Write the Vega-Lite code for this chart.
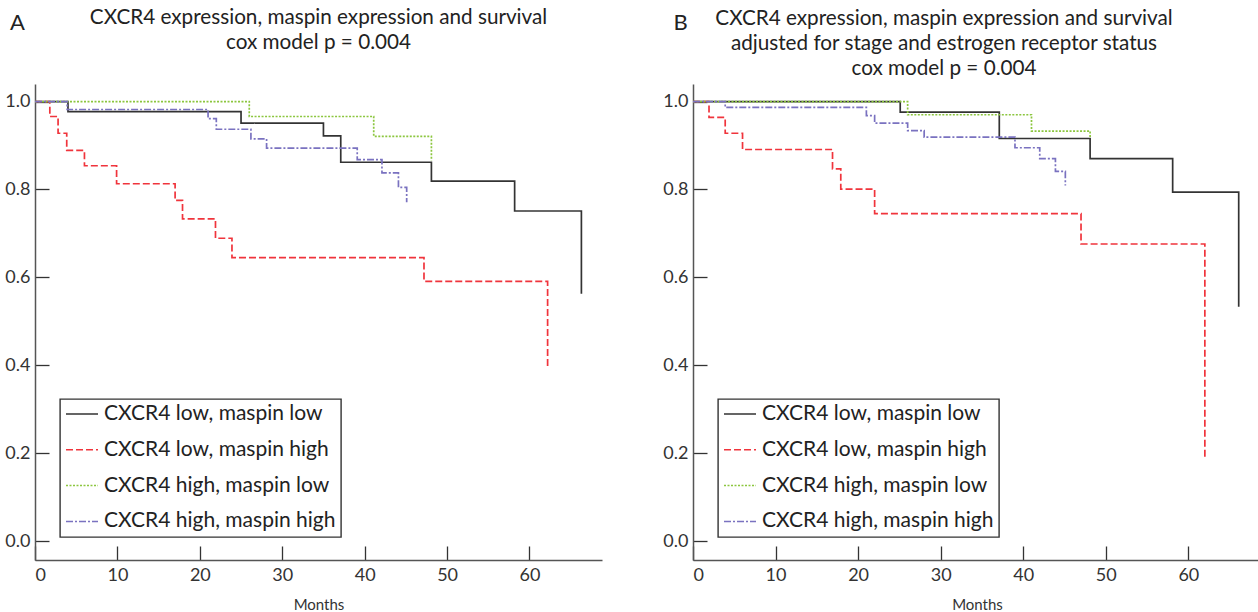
{
  "$schema": "https://vega.github.io/schema/vega-lite/v6.json",
  "padding": {"left": 4, "top": 7, "right": 0, "bottom": 0},
  "background": "white",
  "config": {
    "font": "Lato",
    "view": {"stroke": null},
    "concat": {"spacing": 60},
    "axis": {"grid": false, "domainColor": "#555", "domainWidth": 1.5, "tickColor": "#333", "tickWidth": 1.3, "tickSize": -14, "labelFont": "Lato", "labelFontSize": 18, "labelColor": "#333", "titleFont": "Lato", "titleFontWeight": "normal", "titleColor": "#333"},
    "legend": {"orient": "none", "legendX": 25, "legendY": 315, "strokeColor": "#333", "strokeWidth": 1.4, "padding": 5, "rowPadding": 14.8, "clipHeight": 20, "symbolType": "stroke", "symbolSize": 1024, "symbolStrokeWidth": 1.5, "labelFont": "Lato", "labelFontSize": 21, "labelColor": "#222", "labelOffset": 5, "labelLimit": 400, "title": null, "fillColor": "white"},
    "title": {"font": "Lato", "fontSize": 20.7, "fontWeight": "normal", "color": "#222", "anchor": "middle", "lineHeight": 25}
  },
  "datasets": {
    "a": [
      {"group": "CXCR4 low, maspin low", "month": 0, "surv": 1},
      {"group": "CXCR4 low, maspin low", "month": 4, "surv": 0.977},
      {"group": "CXCR4 low, maspin low", "month": 25, "surv": 0.951},
      {"group": "CXCR4 low, maspin low", "month": 35, "surv": 0.922},
      {"group": "CXCR4 low, maspin low", "month": 37.1, "surv": 0.862},
      {"group": "CXCR4 low, maspin low", "month": 48.1, "surv": 0.819},
      {"group": "CXCR4 low, maspin low", "month": 58.2, "surv": 0.751},
      {"group": "CXCR4 low, maspin low", "month": 66.3, "surv": 0.563},
      {"group": "CXCR4 low, maspin high", "month": 0, "surv": 1},
      {"group": "CXCR4 low, maspin high", "month": 1.8, "surv": 0.966},
      {"group": "CXCR4 low, maspin high", "month": 2.8, "surv": 0.928},
      {"group": "CXCR4 low, maspin high", "month": 3.85, "surv": 0.889},
      {"group": "CXCR4 low, maspin high", "month": 6, "surv": 0.854},
      {"group": "CXCR4 low, maspin high", "month": 9.9, "surv": 0.813},
      {"group": "CXCR4 low, maspin high", "month": 17, "surv": 0.775},
      {"group": "CXCR4 low, maspin high", "month": 17.9, "surv": 0.733},
      {"group": "CXCR4 low, maspin high", "month": 21.9, "surv": 0.689},
      {"group": "CXCR4 low, maspin high", "month": 23.9, "surv": 0.645},
      {"group": "CXCR4 low, maspin high", "month": 47.2, "surv": 0.591},
      {"group": "CXCR4 low, maspin high", "month": 62.2, "surv": 0.392},
      {"group": "CXCR4 high, maspin low", "month": 0, "surv": 1},
      {"group": "CXCR4 high, maspin low", "month": 26, "surv": 0.966},
      {"group": "CXCR4 high, maspin low", "month": 41.1, "surv": 0.921},
      {"group": "CXCR4 high, maspin low", "month": 48.1, "surv": 0.866},
      {"group": "CXCR4 high, maspin high", "month": 0, "surv": 1},
      {"group": "CXCR4 high, maspin high", "month": 3.9, "surv": 0.982},
      {"group": "CXCR4 high, maspin high", "month": 21, "surv": 0.961},
      {"group": "CXCR4 high, maspin high", "month": 22, "surv": 0.937},
      {"group": "CXCR4 high, maspin high", "month": 26.2, "surv": 0.915},
      {"group": "CXCR4 high, maspin high", "month": 28.1, "surv": 0.894},
      {"group": "CXCR4 high, maspin high", "month": 39.1, "surv": 0.868},
      {"group": "CXCR4 high, maspin high", "month": 42.1, "surv": 0.838},
      {"group": "CXCR4 high, maspin high", "month": 44.1, "surv": 0.805},
      {"group": "CXCR4 high, maspin high", "month": 45.1, "surv": 0.771}
    ],
    "b": [
      {"group": "CXCR4 low, maspin low", "month": 0, "surv": 1},
      {"group": "CXCR4 low, maspin low", "month": 25.1, "surv": 0.976},
      {"group": "CXCR4 low, maspin low", "month": 37.1, "surv": 0.916},
      {"group": "CXCR4 low, maspin low", "month": 48.1, "surv": 0.870},
      {"group": "CXCR4 low, maspin low", "month": 58.1, "surv": 0.794},
      {"group": "CXCR4 low, maspin low", "month": 66.1, "surv": 0.533},
      {"group": "CXCR4 low, maspin high", "month": 0, "surv": 1},
      {"group": "CXCR4 low, maspin high", "month": 1.94, "surv": 0.964},
      {"group": "CXCR4 low, maspin high", "month": 3.9, "surv": 0.928},
      {"group": "CXCR4 low, maspin high", "month": 6, "surv": 0.891},
      {"group": "CXCR4 low, maspin high", "month": 16.9, "surv": 0.847},
      {"group": "CXCR4 low, maspin high", "month": 17.9, "surv": 0.801},
      {"group": "CXCR4 low, maspin high", "month": 22, "surv": 0.745},
      {"group": "CXCR4 low, maspin high", "month": 47, "surv": 0.676},
      {"group": "CXCR4 low, maspin high", "month": 62, "surv": 0.185},
      {"group": "CXCR4 high, maspin low", "month": 0, "surv": 1},
      {"group": "CXCR4 high, maspin low", "month": 26, "surv": 0.970},
      {"group": "CXCR4 high, maspin low", "month": 41, "surv": 0.933},
      {"group": "CXCR4 high, maspin low", "month": 48.1, "surv": 0.917},
      {"group": "CXCR4 high, maspin high", "month": 0, "surv": 1},
      {"group": "CXCR4 high, maspin high", "month": 3.9, "surv": 0.987},
      {"group": "CXCR4 high, maspin high", "month": 21, "surv": 0.968},
      {"group": "CXCR4 high, maspin high", "month": 22, "surv": 0.951},
      {"group": "CXCR4 high, maspin high", "month": 26, "surv": 0.934},
      {"group": "CXCR4 high, maspin high", "month": 28, "surv": 0.919},
      {"group": "CXCR4 high, maspin high", "month": 39, "surv": 0.895},
      {"group": "CXCR4 high, maspin high", "month": 42, "surv": 0.870},
      {"group": "CXCR4 high, maspin high", "month": 43.9, "surv": 0.841},
      {"group": "CXCR4 high, maspin high", "month": 45.1, "surv": 0.809}
    ]
  },
  "resolve": {
    "scale": {"color": "independent", "strokeDash": "independent"},
    "legend": {"color": "independent", "strokeDash": "independent"}
  },
  "hconcat": [
    {
      "width": 567,
      "height": 476,
      "title": {"text": ["CXCR4 expression, maspin expression and survival", "cox model p = 0.004"], "offset": -43},
      "data": {"name": "a"},
      "mark": {"type": "line", "interpolate": "step-after", "strokeWidth": 1.7},
      "encoding": {
        "x": {"field": "month", "type": "quantitative", "scale": {"domain": [0, 68.8], "nice": false, "zero": false},
          "axis": {"values": [0, 10, 20, 30, 40, 50, 60], "title": "Months", "titleFontSize": 15, "titlePadding": 13, "labelPadding": 20}},
        "y": {"field": "surv", "type": "quantitative", "scale": {"domain": [-0.043, 1.04], "nice": false, "zero": false},
          "axis": {"values": [0, 0.2, 0.4, 0.6, 0.8, 1.0], "format": ".1f", "labelPadding": 19, "title": "A", "titleAngle": 0, "titleX": -18, "titleY": -62, "titleAlign": "center", "titleBaseline": "middle", "titleFontSize": 22, "titleColor": "#222"}},
        "color": {"field": "group", "type": "nominal", "sort": null,
          "scale": {"domain": ["CXCR4 low, maspin low", "CXCR4 low, maspin high", "CXCR4 high, maspin low", "CXCR4 high, maspin high"], "range": ["#333333", "#f0343c", "#8cc63f", "#7a72c0"]}},
        "strokeDash": {"field": "group", "type": "nominal", "sort": null,
          "scale": {"domain": ["CXCR4 low, maspin low", "CXCR4 low, maspin high", "CXCR4 high, maspin low", "CXCR4 high, maspin high"], "range": [[1, 0], [7, 3], [2, 1.5], [7, 2, 2, 2]]}}
      }
    },
    {
      "width": 568,
      "height": 476,
      "title": {"text": ["CXCR4 expression, maspin expression and survival", "adjusted for stage and estrogen receptor status", "cox model p = 0.004"], "offset": -69, "dx": -33},
      "data": {"name": "b"},
      "mark": {"type": "line", "interpolate": "step-after", "strokeWidth": 1.7},
      "encoding": {
        "x": {"field": "month", "type": "quantitative", "scale": {"domain": [0, 68.8], "nice": false, "zero": false},
          "axis": {"values": [0, 10, 20, 30, 40, 50, 60], "title": "Months", "titleFontSize": 15, "titlePadding": 13, "labelPadding": 20}},
        "y": {"field": "surv", "type": "quantitative", "scale": {"domain": [-0.043, 1.04], "nice": false, "zero": false},
          "axis": {"values": [0, 0.2, 0.4, 0.6, 0.8, 1.0], "format": ".1f", "labelPadding": 19, "title": "B", "titleAngle": 0, "titleX": -13, "titleY": -62, "titleAlign": "center", "titleBaseline": "middle", "titleFontSize": 22, "titleColor": "#222"}},
        "color": {"field": "group", "type": "nominal", "sort": null,
          "scale": {"domain": ["CXCR4 low, maspin low", "CXCR4 low, maspin high", "CXCR4 high, maspin low", "CXCR4 high, maspin high"], "range": ["#333333", "#f0343c", "#8cc63f", "#7a72c0"]}},
        "strokeDash": {"field": "group", "type": "nominal", "sort": null,
          "scale": {"domain": ["CXCR4 low, maspin low", "CXCR4 low, maspin high", "CXCR4 high, maspin low", "CXCR4 high, maspin high"], "range": [[1, 0], [7, 3], [2, 1.5], [7, 2, 2, 2]]}}
      }
    }
  ]
}
